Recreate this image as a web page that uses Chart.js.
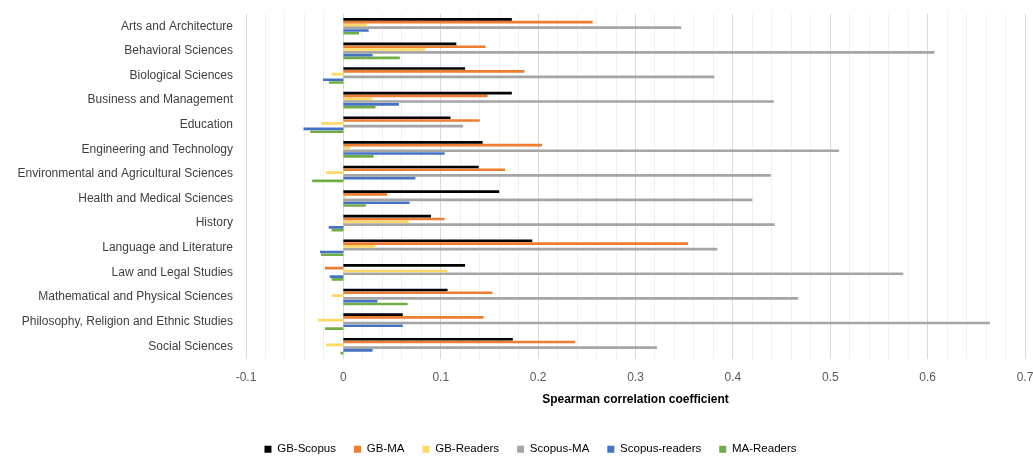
<!DOCTYPE html>
<html>
<head>
<meta charset="utf-8">
<script src="https://cdn.jsdelivr.net/npm/chart.js@4"></script>
<style>
  html, body { margin: 0; padding: 0; background: #fff; }
  #wrap { width: 1033px; height: 456px; }
</style>
</head>
<body>
<div id="wrap"><canvas id="myChart"></canvas></div>
<script>
// categories (top to bottom)
const subjects = [
  'Arts and Architecture', 'Behavioral Sciences', 'Biological Sciences',
  'Business and Management', 'Education', 'Engineering and Technology',
  'Environmental and Agricultural Sciences', 'Health and Medical Sciences',
  'History', 'Language and Literature', 'Law and Legal Studies',
  'Mathematical and Physical Sciences', 'Philosophy, Religion and Ethnic Studies',
  'Social Sciences'
];

// series values
const gbScopus      = [0.173, 0.116, 0.125, 0.173, 0.110, 0.143, 0.139, 0.160, 0.090, 0.194, 0.125, 0.107, 0.061, 0.174];
const gbMA          = [0.256, 0.146, 0.186, 0.148, 0.140, 0.204, 0.166, 0.045, 0.104, 0.354, -0.019, 0.153, 0.144, 0.238];
const gbReaders     = [0.024, 0.084, -0.012, 0.030, -0.023, 0.007, -0.018, 0.002, 0.067, 0.033, 0.107, -0.012, -0.026, -0.018];
const scopusMA      = [0.347, 0.607, 0.381, 0.442, 0.123, 0.509, 0.439, 0.420, 0.443, 0.384, 0.575, 0.467, 0.664, 0.322];
const scopusReaders = [0.026, 0.030, -0.021, 0.057, -0.041, 0.104, 0.074, 0.068, -0.015, -0.024, -0.014, 0.035, 0.061, 0.030];
const maReaders     = [0.016, 0.058, -0.015, 0.033, -0.034, 0.031, -0.032, 0.023, -0.012, -0.023, -0.012, 0.066, -0.019, -0.003];

const seriesNames = ['GB-Scopus', 'GB-MA', 'GB-Readers', 'Scopus-MA', 'Scopus-readers', 'MA-Readers'];
const seriesColors = ['#000000', '#ED7D31', '#FFD966', '#A5A5A5', '#4472C4', '#70AD47'];
const seriesData = [gbScopus, gbMA, gbReaders, scopusMA, scopusReaders, maReaders];

const axisMin = -0.1;
const axisMax = 0.7;

const font = "'Liberation Sans', Arial, sans-serif";

// legend in the reference sits a little right of the canvas centre
const legendShift = {
  id: 'legendShift',
  afterLayout(chart) {
    if (chart.legend) chart.legend.left += 36;
  }
};

const ctx = document.getElementById('myChart');

const chart = new Chart(ctx, {
  type: 'bar',
  data: {
    labels: subjects,
    datasets: seriesNames.map((name, i) => ({
      label: name,
      data: seriesData[i],
      backgroundColor: seriesColors[i],
      borderWidth: 0,
      barPercentage: 0.95,
      categoryPercentage: 0.68
    }))
  },
  options: {
    indexAxis: 'y',
    responsive: true,
    maintainAspectRatio: false,
    animation: false,
    layout: { padding: { top: 14, right: 8, left: 0, bottom: -9 } },
    plugins: {
      tooltip: { enabled: false },
      legend: {
        position: 'bottom',
        labels: {
          boxWidth: 7,
          boxHeight: 7,
          padding: 18,
          color: '#000',
          font: { family: font, size: 11.5 }
        }
      }
    },
    scales: {
      x: {
        min: axisMin,
        max: axisMax,
        afterFit: (scale) => {
          scale.height = 67;
          scale.paddingLeft = 0;
          scale.paddingRight = 0;
        },
        border: { display: false },
        grid: {
          drawTicks: false,
          color: (c) => {
            const v = Math.round(c.tick.value * 100);
            return v % 10 === 0 ? '#D9D9D9' : '#F0F0F0';
          }
        },
        ticks: {
          stepSize: 0.02,
          maxTicksLimit: 100,
          autoSkip: false,
          maxRotation: 0,
          padding: 12,
          color: '#595959',
          font: { family: font, size: 12 },
          callback: (v) => {
            const n = Math.round(v * 100);
            if (n % 10 !== 0) return '';
            return String(n / 100);
          }
        },
        title: {
          display: true,
          text: 'Spearman correlation coefficient',
          color: '#000',
          font: { family: font, size: 12, weight: 'bold' },
          padding: { top: 4, bottom: 19 }
        }
      },
      y: {
        afterFit: (scale) => {
          scale.width = 246;
          scale.paddingTop = 0;
          scale.paddingBottom = 0;
        },
        border: { display: false },
        grid: { display: false, drawTicks: false },
        ticks: {
          padding: 13,
          color: '#404040',
          font: { family: font, size: 12 }
        }
      }
    }
  },
  plugins: [legendShift]
});
</script>
</body>
</html>
